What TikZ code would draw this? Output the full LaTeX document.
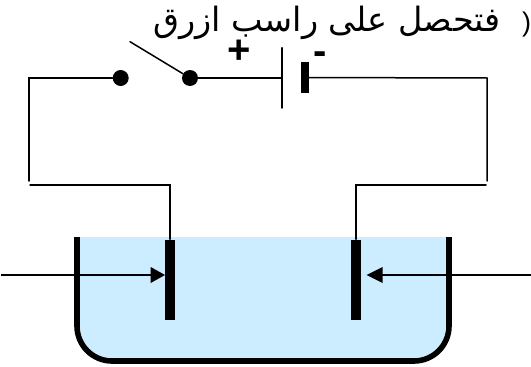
\documentclass[tikz,border=0pt]{standalone}
\usepackage{fontspec}
\setmainfont{Liberation Sans}
\newfontfamily\arabicfont[Script=Arabic]{DejaVu Sans}
\TeXXeTstate=1
\definecolor{water}{HTML}{CCECFF}
\tikzset{
  wire/.style={line width=1.5pt,line cap=round,line join=miter},
  terminal/.style={circle,fill=black,inner sep=0pt,minimum size=16pt},
  plate/.style={fill=black,inner sep=0pt,minimum width=10.5pt,minimum height=80pt},
  wall/.style={line width=5.6pt,line join=round,rounded corners=35pt},
  pointer/.style={line width=1.8pt},
  head/.style={fill=black,draw=none},
  sign/.style={inner sep=0pt,font=\bfseries\fontsize{40}{40}\selectfont}
}
\begin{document}
\begin{tikzpicture}[x=1pt,y=-1pt]
\useasboundingbox (0,0) rectangle (531,367);
\fill[water,rounded corners=32pt] (80,237) -- (80,358) -- (446,358) -- (446,237) -- cycle;
\fill[water] (80,237) rectangle (446,300);
\draw[wall] (77,237) -- (77,361) -- (449,361) -- (449,237);
% electrodes
\node[plate] (anode) at (170,279.5) {};
\node[plate] (cathode) at (356,279.5) {};
% switch and cell
\node[terminal] (t1) at (120.7,78) {};
\node[terminal] (t2) at (190,78) {};
\coordinate (arm) at (130,41.7);
\coordinate (plusplatetop) at (282,47.7);
\coordinate (plusplatebot) at (282,108);
\coordinate (cellplus) at (282,78);
\node[fill=black,inner sep=0pt,minimum width=8pt,minimum height=31pt] (minusplate) at (305,77.5) {};
\coordinate (lt) at (29,78);
\coordinate (lb) at (29,181);
\coordinate (rt) at (487,78);
\coordinate (rb) at (487,181);
\coordinate (lc) at (30,185);
\coordinate (rc) at (486,185);
\draw[wire] (arm) -- (t2);
\draw[wire] (plusplatetop) -- (plusplatebot);
\draw[wire] (t1) -- (lt) -- (lb);
\draw[wire] (t2) -- (cellplus);
\draw[wire] (minusplate) -- (rt) -- (rb);
\draw[wire] (lc) -- (170,185) -- (anode.north);
\draw[wire] (cathode.north) -- (356,185) -- (rc);
% pointers
\coordinate (la) at (1,275);
\coordinate (ra) at (531,275);
\draw[pointer] (la) -- (152,275);
\fill[head] (165,275) -- (150.7,267) -- (150.7,283) -- cycle;
\draw[pointer] (ra) -- (381,275);
\fill[head] (366.7,275) -- (382.7,267) -- (382.7,283) -- cycle;
% labels
\node[sign] (plus) at (239,52) {+};
\node[sign] (minus) at (320,58) {-};
\node[inner sep=0pt,anchor=base east] (title) at (501,31) {\arabicfont\fontsize{33.5}{36}\selectfont\beginR فتحصل على راسب ازرق\endR};
\node[inner sep=0pt,anchor=base west] (paren) at (522,31) {\fontsize{27}{30}\selectfont)};
\end{tikzpicture}
\end{document}
